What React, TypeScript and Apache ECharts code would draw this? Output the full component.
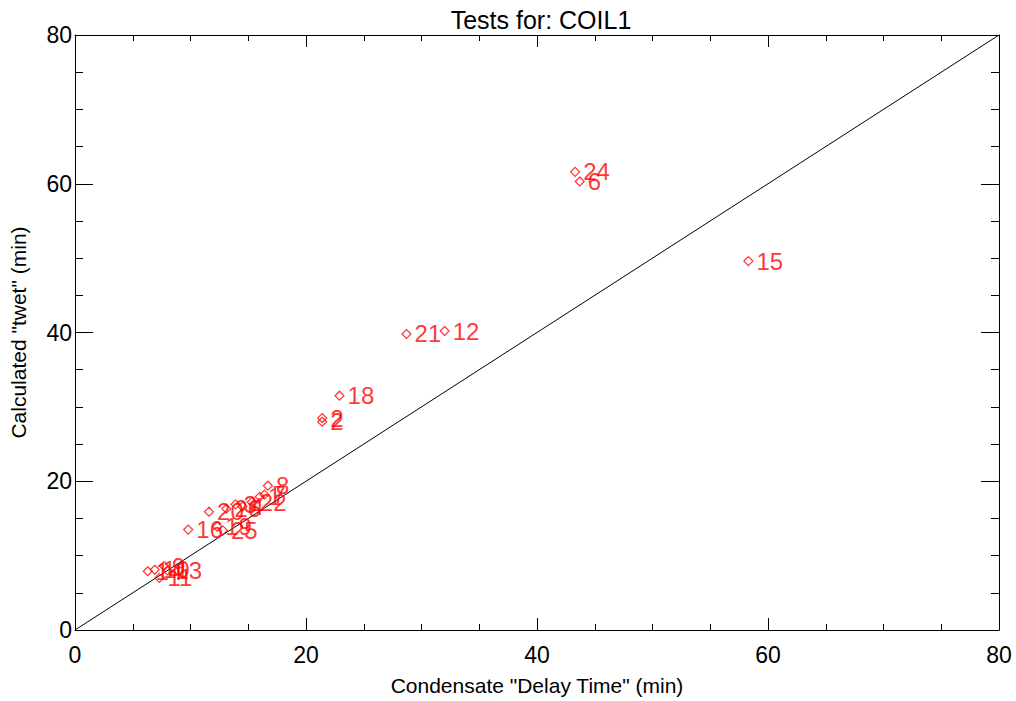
import React, { useEffect, useRef } from "react";
import * as echarts from "echarts";

const testLabels = [
  "24", "6", "15", "21", "12", "18", "2", "2",
  "8", "7", "1", "22", "4", "3", "26", "20", "19", "25", "16",
  "13", "11", "10", "9", "14",
];
const delayTime = [
  43.3, 43.7, 58.3, 28.7, 32.0, 22.9, 21.4, 21.4,
  16.7, 16.4, 16.0, 15.3, 14.5, 13.9, 13.1, 11.6, 12.3, 12.8, 9.8,
  8.0, 7.3, 6.9, 7.7, 6.3,
];
const calcTwet = [
  61.6, 60.3, 49.6, 39.8, 40.2, 31.5, 28.5, 28.0,
  19.4, 18.2, 17.9, 17.2, 16.6, 16.9, 16.3, 15.9, 13.9, 13.4, 13.5,
  8.0, 7.0, 8.1, 8.6, 7.9,
];
const diagonal = [[0, 0], [80, 80]];

const FONT = "'Liberation Sans', Arial, Helvetica, sans-serif";

export default function App() {
  const ref = useRef<HTMLDivElement>(null);
  useEffect(() => {
    document.body.style.margin = "0";
    const chart = echarts.init(ref.current!, null, { renderer: "svg" });
    const points = testLabels.map((name, i) => ({ name, value: [delayTime[i], calcTwet[i]] }));
    const axisCommon = {
      min: 0,
      max: 80,
      interval: 20,
      axisLine: { show: true, onZero: false, lineStyle: { color: "#000", width: 1 } },
      splitLine: { show: false },
      minorSplitLine: { show: false },
    };
    chart.setOption({
      animation: false,
      backgroundColor: "#fff",
      textStyle: { fontFamily: FONT },
      title: {
        text: "Tests for: COIL1",
        left: 536,
        textAlign: "center",
        top: 2,
        textStyle: { fontFamily: FONT, fontSize: 25, fontWeight: "normal", color: "#000" },
      },
      grid: { left: 68, right: 17, top: 35, bottom: 68, containLabel: false },
      xAxis: [
        {
          ...axisCommon,
          type: "value",
          position: "bottom",
          name: 'Condensate "Delay Time" (min)',
          nameLocation: "middle",
          nameGap: 45,
          nameTextStyle: { fontFamily: FONT, fontSize: 21, color: "#000" },
          axisTick: { show: true, inside: true, length: 12, lineStyle: { color: "#000" } },
          minorTick: { show: true, splitNumber: 4, length: 6, lineStyle: { color: "#000" } },
          axisLabel: { fontFamily: FONT, fontSize: 23, color: "#000", margin: 13 },
        },
        {
          ...axisCommon,
          type: "value",
          position: "top",
          axisTick: { show: true, inside: true, length: 12, lineStyle: { color: "#000" } },
          minorTick: { show: true, splitNumber: 4, length: 6, lineStyle: { color: "#000" } },
          axisLabel: { show: false },
        },
      ],
      yAxis: [
        {
          ...axisCommon,
          type: "value",
          position: "left",
          name: 'Calculated "twet" (min)',
          nameLocation: "middle",
          nameGap: 46,
          nameTextStyle: { fontFamily: FONT, fontSize: 21, color: "#000" },
          axisTick: { show: true, inside: true, length: 18, lineStyle: { color: "#000" } },
          minorTick: { show: true, splitNumber: 4, length: 8, lineStyle: { color: "#000" } },
          axisLabel: { fontFamily: FONT, fontSize: 23, color: "#000", margin: 3 },
        },
        {
          ...axisCommon,
          type: "value",
          position: "right",
          axisTick: { show: true, inside: true, length: 18, lineStyle: { color: "#000" } },
          minorTick: { show: true, splitNumber: 4, length: 8, lineStyle: { color: "#000" } },
          axisLabel: { show: false },
        },
      ],
      series: [
        {
          type: "line",
          data: diagonal,
          symbol: "none",
          lineStyle: { color: "#000", width: 1 },
          silent: true,
          z: 1,
        },
        {
          type: "scatter",
          data: points,
          symbol: "diamond",
          symbolSize: 9,
          itemStyle: { color: "transparent", borderColor: "#ff0000", borderWidth: 1.2 },
          label: {
            show: true,
            position: "right",
            distance: 3,
            offset: [0, -6],
            formatter: "{b}",
            color: "#ff0000",
            fontFamily: FONT,
            fontSize: 24,
          },
          labelLayout: { hideOverlap: false },
          z: 2,
        },
      ],
    });
    return () => chart.dispose();
  }, []);
  return <div ref={ref} style={{ position: "fixed", left: 0, top: 0, width: 1016, height: 701 }} />;
}
